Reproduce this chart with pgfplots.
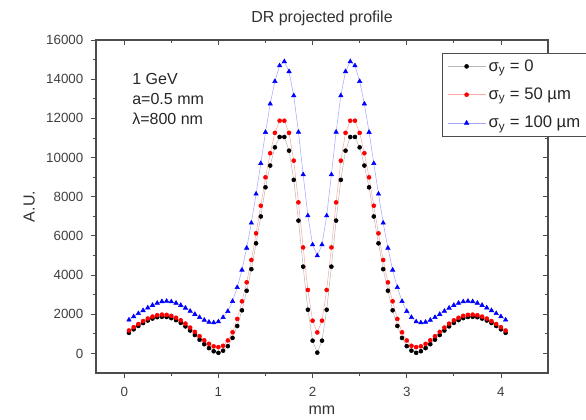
\documentclass[border=0pt]{standalone}
\usepackage{fontspec}
\setmainfont{Liberation Sans}
\usepackage{pgfplots}
\usepackage{pgfplotstable}
\pgfplotsset{compat=1.18}

% projected DR profile, three beam sizes
\pgfplotstableread{
x    s0     s50    s100
0.05 1050   1170   1710
0.10 1230   1340   1880
0.15 1400   1500   2040
0.20 1550   1650   2190
0.25 1680   1780   2330
0.30 1780   1880   2460
0.35 1850   1950   2570
0.40 1870   1980   2650
0.45 1860   1970   2670
0.50 1800   1920   2640
0.55 1700   1820   2570
0.60 1560   1690   2460
0.65 1380   1520   2320
0.70 1170   1320   2160
0.75 940    1100   2000
0.80 700    880    1840
0.85 470    670    1700
0.90 270    490    1600
0.95 110    360    1570
1.00 30     320    1620
1.05 140    390    1840
1.10 370    660    2150
1.15 790    1080   2660
1.20 1400   1760   3370
1.25 2200   2660   4260
1.30 3200   3630   5380
1.35 4300   4770   6660
1.40 5620   6130   8140
1.45 6990   7540   9700
1.50 8480   8990   11290
1.55 9590   10220  12740
1.60 10520  11260  13890
1.65 11050  11880  14690
1.70 11050  11880  14900
1.75 10350  11260  14390
1.80 8860   9840   13160
1.85 6780   7710   11300
1.90 4430   5410   9130
1.95 2230   3240   7030
2.00 650    1670   5550
2.05 40     1070   4990
2.10 650    1670   5550
2.15 2230   3240   7030
2.20 4430   5410   9130
2.25 6780   7710   11300
2.30 8860   9840   13160
2.35 10350  11260  14390
2.40 11050  11880  14900
2.45 11050  11880  14690
2.50 10520  11260  13890
2.55 9590   10220  12740
2.60 8480   8990   11290
2.65 6990   7540   9700
2.70 5620   6130   8140
2.75 4300   4770   6660
2.80 3200   3630   5380
2.85 2200   2660   4260
2.90 1400   1760   3370
2.95 790    1080   2660
3.00 370    660    2150
3.05 140    390    1840
3.10 30     320    1620
3.15 110    360    1570
3.20 270    490    1600
3.25 470    670    1700
3.30 700    880    1840
3.35 940    1100   2000
3.40 1170   1320   2160
3.45 1380   1520   2320
3.50 1560   1690   2460
3.55 1700   1820   2570
3.60 1800   1920   2640
3.65 1860   1970   2670
3.70 1870   1980   2650
3.75 1850   1950   2570
3.80 1780   1880   2460
3.85 1680   1780   2330
3.90 1550   1650   2190
3.95 1400   1500   2040
4.00 1230   1340   1880
4.05 1050   1170   1710
}\profile

\pgfplotsset{
  drbox/.style={
    at={(0pt,0pt)}, anchor=south west,
    scale only axis, width=339pt, height=249.75pt,
    xmin=-0.3, xmax=4.5, ymin=-1000, ymax=16000,
    xtick={0,1,2,3,4}, minor x tick num=1,
    ytick={0,2000,...,16000}, minor y tick num=1,
    scaled y ticks=false,
    major tick length=4pt, minor tick length=2.5pt,
    every tick/.style={black!70, line width=0.6pt},
  },
}

\begin{document}
\begin{tikzpicture}
\useasboundingbox (-72pt,-34.5pt) rectangle (367.5pt,279.75pt);

% inward ticks on top and right
\begin{axis}[drbox,
  axis line style={draw=none},
  xtick pos=right, ytick pos=right, tick align=inside,
  xticklabels={}, yticklabels={},
]
\end{axis}

\begin{axis}[drbox,
  clip=false,
  axis line style={black!70, line width=0.8pt},
  xtick pos=left, ytick pos=left, tick align=outside,
  /pgf/number format/assume math mode=true,
  /pgf/number format/1000 sep={},
  tick label style={font=\fontsize{10}{12}\selectfont, text=black!75},
  yticklabel style={xshift=-2pt},
  xticklabel style={yshift=-3pt},
  xlabel={mm},
  xlabel style={at={(axis description cs:0.5,-0.113)}, anchor=center,
    font=\fontsize{12}{14}\selectfont, text=black!80},
  ylabel={A.U.},
  ylabel style={at={(axis description cs:-0.148,0.5)}, anchor=center,
    font=\fontsize{12}{14}\selectfont, text=black!80},
  legend style={at={(axis description cs:0.765,0.962)}, anchor=north west,
    draw=black!70, fill=white, font=\fontsize{12.5}{14}\selectfont,
    text=black!85, row sep=7pt, inner xsep=4pt, inner ysep=3pt},
  legend cell align=left,
  legend image code/.code={
    \draw[mark repeat=2, mark phase=2]
      plot coordinates {(0cm,0cm) (0.5cm,0cm) (1.0cm,0cm)};
  },
]
\addplot[gray!55, line width=0.4pt, mark=*, mark size=1.5pt,
  mark options={solid, fill=black, draw=black}]
  table[x=x, y=s0] {\profile};
\addplot[red!35, line width=0.4pt, mark=*, mark size=1.5pt,
  mark options={solid, fill=red, draw=red}]
  table[x=x, y=s50] {\profile};
\addplot[blue!35, line width=0.4pt, mark=triangle*, mark size=1.9pt,
  mark options={solid, fill=blue, draw=blue}]
  table[x=x, y=s100] {\profile};
\legend{σ\textsubscript{y} = 0, σ\textsubscript{y} = 50 µm, σ\textsubscript{y} = 100 µm}

\node[anchor=west, align=left, font=\fontsize{12}{15}\selectfont, text=black!85]
  at (axis description cs:0.07,0.823) {1 GeV\\a=0.5 mm\\λ=800 nm};
\node[anchor=center, font=\fontsize{12}{14}\selectfont, text=black!80]
  at (axis description cs:0.5,1.066) {DR projected profile};
\end{axis}
\end{tikzpicture}
\end{document}
